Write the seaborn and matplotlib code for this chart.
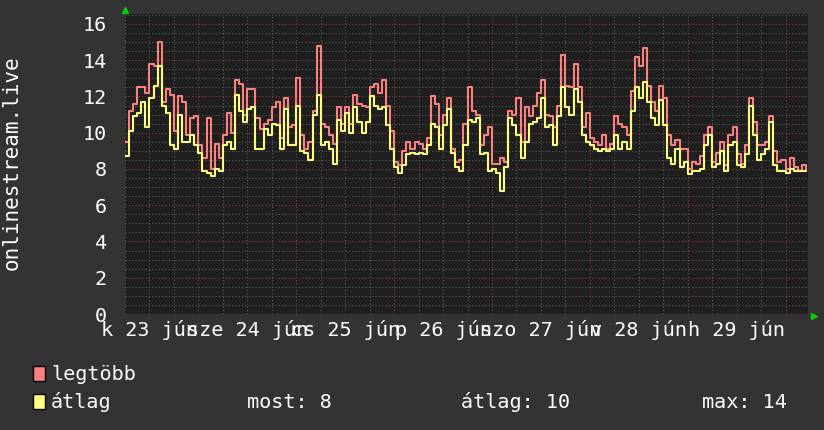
import numpy as np
import pandas as pd
import seaborn as sns
import matplotlib.pyplot as plt
from matplotlib.ticker import MultipleLocator
from matplotlib.patches import Rectangle

# hourly values, first one is 23 jún 06:00
legtobb = [9.5, 11.2, 11.6, 12.5, 12.5, 12.2, 13.8, 13.7, 15.0, 11.7,
           12.4, 12.1, 10.1, 12.0, 11.7, 9.9, 10.8, 10.9, 9.3, 8.6,
           10.8, 8.0, 9.4, 8.6, 9.9, 11.1, 10.0, 12.9, 12.7, 11.0,
           12.4, 12.4, 10.8, 10.2,
           10.5, 10.7, 11.4, 11.7, 9.7, 11.9, 10.3, 10.4, 13.0, 9.9,
           9.1, 9.5, 11.2, 14.8, 10.5, 10.3, 9.9, 9.4, 11.4, 10.5,
           11.4, 10.5, 12.1, 11.6, 11.5, 11.4, 12.5, 12.7, 12.2, 12.9,
           11.5, 10.1, 8.4, 8.2,
           9.0, 9.5, 9.1, 9.5, 9.4, 9.1, 9.7, 12.0, 11.6, 9.9,
           11.0, 11.9, 9.1, 8.4, 8.5, 10.5, 12.5, 11.2, 11.0, 9.3,
           9.9, 10.3, 8.3, 8.3, 8.6, 8.4, 11.2, 11.0, 11.9, 9.5,
           11.4, 10.9, 11.5, 12.2,
           12.9, 11.0, 10.9, 10.3, 11.5, 14.3, 12.6, 12.5, 13.8, 12.5,
           10.3, 11.1, 9.7, 9.5, 9.3, 9.9, 9.1, 9.4, 10.9, 10.5,
           10.3, 9.9, 12.3, 14.2, 13.7, 14.7, 12.6, 11.7, 11.2, 12.6,
           11.9, 9.9, 9.3, 9.6,
           9.1, 9.1, 8.0, 8.4, 8.3, 8.7, 9.9, 10.3, 8.4, 8.9,
           9.5, 8.2, 9.9, 10.3, 8.8, 8.3, 9.3, 11.9, 10.6, 9.3,
           9.3, 9.5, 10.9, 9.0, 8.4, 8.5, 8.0, 8.6, 8.1, 7.9,
           8.2, 7.9]

atlag = [8.7, 10.1, 10.9, 11.1, 11.7, 10.3, 11.9, 12.6, 13.7, 11.5,
         11.1, 9.3, 9.1, 11.0, 9.5, 9.5, 9.9, 9.3, 8.9, 7.9,
         7.8, 7.6, 8.0, 7.9, 9.3, 9.5, 9.1, 12.1, 11.2, 10.6,
         11.3, 11.4, 9.1, 9.1,
         10.2, 9.9, 10.5, 10.4, 9.1, 11.3, 9.3, 9.3, 11.5, 9.0,
         8.9, 8.5, 11.0, 12.1, 9.3, 9.5, 9.1, 8.3, 10.7, 10.1,
         11.1, 10.0, 11.4, 10.6, 10.0, 10.6, 12.0, 11.5, 11.3, 11.4,
         10.4, 9.1, 8.1, 7.8,
         8.2, 8.8, 8.9, 8.8, 8.9, 8.8, 9.3, 10.5, 10.3, 9.1,
         10.4, 11.3, 8.9, 8.1, 7.9, 9.3, 10.7, 10.6, 10.8, 8.8,
         8.9, 7.9, 8.0, 7.8, 6.8, 8.1, 10.8, 10.4, 9.9, 8.6,
         9.5, 10.5, 10.6, 10.8,
         11.9, 10.3, 10.4, 9.3, 10.9, 12.5, 11.4, 11.0, 12.4, 11.7,
         9.9, 9.5, 9.3, 9.1, 9.0, 9.1, 9.0, 9.1, 9.9, 9.1,
         9.5, 9.1, 11.2, 12.5, 11.9, 12.8, 11.7, 10.8, 10.4, 11.8,
         10.4, 8.6, 8.3, 9.1,
         8.1, 8.4, 7.7, 7.9, 7.9, 8.0, 9.3, 9.9, 8.1, 8.3,
         9.0, 7.9, 9.3, 9.5, 8.2, 8.1, 8.8, 11.5, 9.9, 8.5,
         8.8, 9.1, 10.6, 8.2, 7.9, 7.9, 7.8, 8.0, 7.9, 7.9,
         7.9, 7.9]

day_labels = ['k 23 jún', 'sze 24 jún', 'cs 25 jún', 'p 26 jún',
              'szo 27 jún', 'v 28 jún', 'h 29 jún']
stats = ['most: 8', 'átlag: 10', 'max: 14']

BG = '#333333'
PLOT_BG = '#1f1f1f'
PINK = '#ff8080'
YELLOW = '#ffff80'

sns.set_style('dark')
plt.rcParams['font.family'] = ['DejaVu Sans Mono']

df = pd.DataFrame({'ora': np.arange(len(legtobb)),
                   'legtöbb': legtobb, 'átlag': atlag})

fig = plt.figure(figsize=(8.24, 4.30), dpi=100, facecolor=BG)
ax = fig.add_axes([125 / 824, 116 / 430, 683 / 824, 300 / 430])
ax.set_facecolor(PLOT_BG)

sns.lineplot(data=df, x='ora', y='legtöbb', color=PINK, lw=1.5,
             drawstyle='steps-post', ax=ax)
sns.lineplot(data=df, x='ora', y='átlag', color=YELLOW, lw=1.5,
             drawstyle='steps-post', ax=ax)

ax.set_xlim(0, 167.5)
ax.set_ylim(0, 16.55)

# grid: midnight / every 2 in red, 6 hours / 0.5 in grey
ax.set_xticks(np.arange(18, 168, 24))
ax.xaxis.set_minor_locator(MultipleLocator(6))
ax.yaxis.set_major_locator(MultipleLocator(2))
ax.yaxis.set_minor_locator(MultipleLocator(0.5))
ax.set_axisbelow(True)
ax.grid(which='minor', color='#5a5a5a', lw=0.8, ls=(0, (1, 2)))
ax.grid(which='major', color='#8a3a3a', lw=0.8, ls=(0, (1, 2)))
ax.set_xticklabels([])
ax.tick_params(axis='x', which='both', length=0)
ax.tick_params(axis='y', which='both', length=0, colors='white',
               labelsize=14.5, pad=13)
for s in ax.spines.values():
    s.set_visible(False)
ax.set_xlabel('')
ax.set_ylabel('')

for i, lab in enumerate(day_labels):
    ax.text(6 + 24 * i, -0.053, lab, transform=ax.get_xaxis_transform(),
            ha='center', va='center', color='white', fontsize=14.5)

# axis arrows
ax.plot([0], [1.012], marker='^', color='#00cc00', ms=4.5,
        transform=ax.transAxes, clip_on=False)
ax.plot([1.009], [-0.006], marker='>', color='#00cc00', ms=4.5,
        transform=ax.transAxes, clip_on=False)

fig.text(12 / 824, 1 - 163 / 430, 'onlinestream.live', rotation=90,
         ha='center', va='center', color='white', fontsize=15)

# legend
for row, (name, col) in enumerate([('legtöbb', PINK), ('átlag', YELLOW)]):
    yc = 374 + 28 * row
    fig.patches.append(Rectangle((33 / 824, 1 - (yc + 7) / 430), 12 / 824,
                                 15 / 430, transform=fig.transFigure,
                                 facecolor=col, edgecolor='black', lw=1))
    fig.text(51 / 824, 1 - yc / 430, name, ha='left', va='center',
             color='white', fontsize=14.5)
for txt, xl in zip(stats, [247, 461, 702]):
    fig.text(xl / 824, 1 - 402 / 430, txt, ha='left', va='center',
             color='white', fontsize=14.5)

fig.savefig('out.png', dpi=100, facecolor=BG)
